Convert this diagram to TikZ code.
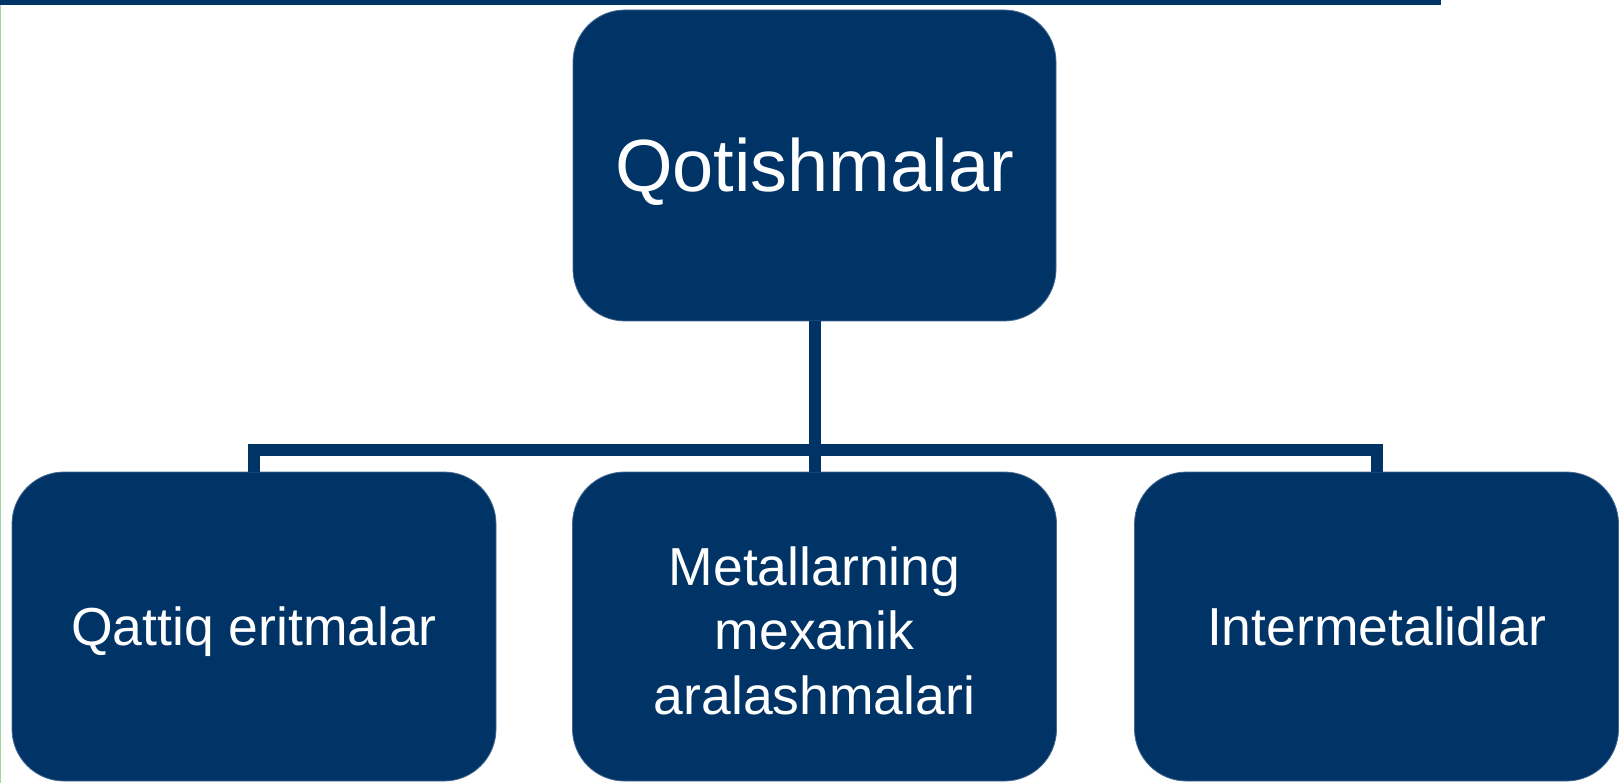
\documentclass[tikz,border=0pt]{standalone}
\usepackage{fontspec}
\setmainfont{Liberation Sans}
\definecolor{navy}{RGB}{0,51,102}
\definecolor{navyedge}{RGB}{70,105,145}
\definecolor{leftgreen}{RGB}{160,212,160}
\begin{document}
\begin{tikzpicture}[x=1pt,y=-1pt,
  box/.style={rectangle, rounded corners=52pt, fill=navy, draw=navyedge, line width=0.8pt,
    text=white, align=center, inner sep=0pt},
  topbox/.style={box, minimum width=483pt, minimum height=311pt, font=\fontsize{74}{88}\selectfont},
  lowbox/.style={box, minimum width=484pt, minimum height=309pt, font=\fontsize{53.5}{64.5}\selectfont},
  link/.style={draw=navy, line width=12pt}]
\useasboundingbox (0,0) rectangle (1624,783);
\fill[navy] (0,0) rectangle (1441,5);
\fill[leftgreen] (0,5) rectangle (1,783);
\node[topbox] (top) at (814.5,165.5) {\raisebox{0pt}[66pt]{Qotishmalar}};
\node[lowbox] (left) at (254,626.5) {\raisebox{0pt}[\height][0pt]{Qattiq eritmalar}};
\node[lowbox] (mid) at (814.5,626.5) {\raisebox{0pt}[47pt][0pt]{Metallarning}\\mexanik\\aralashmalari};
\node[lowbox] (right) at (1376.5,626.5) {Intermetalidlar};
\coordinate (bar) at (814.5,450);
\draw[link] (top.south) -- (mid.north);
\draw[link] (left.north) |- (bar) -| (right.north);
\end{tikzpicture}
\end{document}
